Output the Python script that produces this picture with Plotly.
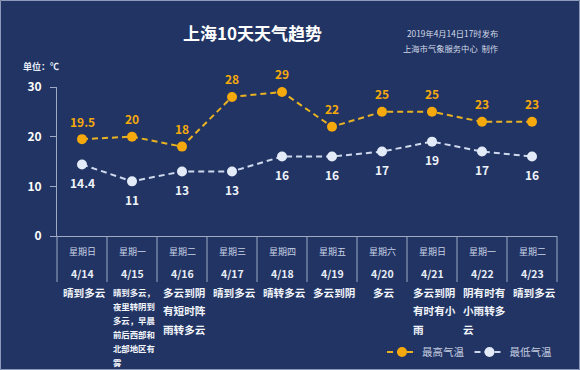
import plotly.graph_objects as go

# ---------------- data ----------------
dates = ["4/14", "4/15", "4/16", "4/17", "4/18", "4/19", "4/20", "4/21", "4/22", "4/23"]
weekdays = ["星期日", "星期一", "星期二", "星期三", "星期四", "星期五", "星期六", "星期日", "星期一", "星期二"]
highs = [19.5, 20, 18, 28, 29, 22, 25, 25, 23, 23]
lows = [14.4, 11, 13, 13, 16, 16, 17, 19, 17, 16]
weather = [
    ["晴到多云"],
    ["晴到多云，", "夜里转阴到", "多云，早晨", "前后西部和", "北部地区有", "雾"],
    ["多云到阴", "有短时阵", "雨转多云"],
    ["晴到多云"],
    ["晴转多云"],
    ["多云到阴"],
    ["多云"],
    ["多云到阴", "有时有小", "雨"],
    ["阴有时有", "小雨转多", "云"],
    ["晴到多云"],
]
y_ticks = [0, 10, 20, 30]
title_text = "上海10天天气趋势"
pub_text = "2019年4月14日17时发布"
maker_text = "上海市气象服务中心  制作"
unit_text = "单位：℃"
legend_names = ["最高气温", "最低气温"]

# ---------------- style ----------------
W, H = 580, 370
L, R, T, B = 57, 23, 87, 134
BG = "#213463"
AX = "#9fabc6"
ORANGE = "#f5a90c"
ORANGE_LINE = "#e9b222"
LOW = "#e3ebf8"
LOW_LINE = "#cfd9ee"
FONT = "Noto Sans CJK SC"


def px(p):
    return (p - L) / (W - L - R)


def py(p):
    return (H - B - p) / (H - T - B)


fig = go.Figure()
fig.add_trace(go.Scatter(
    x=dates, y=highs, mode="lines+markers", name=legend_names[0],
    line=dict(color=ORANGE_LINE, width=2, dash="6px,4px"),
    marker=dict(size=10, color=ORANGE),
))
fig.add_trace(go.Scatter(
    x=dates, y=lows, mode="lines+markers", name=legend_names[1],
    line=dict(color=LOW_LINE, width=2, dash="6px,4px"),
    marker=dict(size=10, color=LOW),
))

ann = []
for d, v in zip(dates, highs):
    ann.append(dict(x=d, y=v, xref="x", yref="y", text=f"<b>{v:g}</b>", showarrow=False,
                    yanchor="middle", yshift=18, font=dict(family=FONT, size=12, color=ORANGE)))
for d, v in zip(dates, lows):
    ann.append(dict(x=d, y=v, xref="x", yref="y", text=f"<b>{v:g}</b>", showarrow=False,
                    yanchor="middle", yshift=-18, font=dict(family=FONT, size=12, color="#eef2fa")))

# table texts
for i, d in enumerate(dates):
    ann.append(dict(x=d, y=py(251.5), xref="x", yref="paper", text=weekdays[i], showarrow=False,
                    yanchor="middle", font=dict(family=FONT, size=9, color="#c9d2e6")))
    ann.append(dict(x=d, y=py(273.5), xref="x", yref="paper", text=f"<b>{d}</b>", showarrow=False,
                    yanchor="middle", font=dict(family=FONT, size=10.5, color="#e8edf7")))
    lines = weather[i]
    small = len(lines) > 3
    fs = 8.4 if small else 10.6
    lh = 14 if small else 18.8
    bw = max(len(s) for s in lines) * fs
    for j, s in enumerate(lines):
        ann.append(dict(x=d, y=py(292 + j * lh), xref="x", yref="paper", text=f"<b>{s}</b>",
                        showarrow=False, xanchor="left", yanchor="middle", xshift=-bw / 2,
                        font=dict(family=FONT, size=fs, color="#f2f5fb")))

# headers
ann.append(dict(x=px(252.5), y=py(32), xref="paper", yref="paper", text=f"<b>{title_text}</b>",
                showarrow=False, xanchor="center", yanchor="middle",
                font=dict(family=FONT, size=17, color="#ffffff")))
ann.append(dict(x=px(500), y=py(32.5), xref="paper", yref="paper", text=pub_text, xanchor="right",
                yanchor="middle", showarrow=False, font=dict(family=FONT, size=8.3, color="#d3d9e8")))
ann.append(dict(x=px(500), y=py(48), xref="paper", yref="paper", text=maker_text, xanchor="right",
                yanchor="middle", showarrow=False, font=dict(family=FONT, size=8.3, color="#d3d9e8")))
ann.append(dict(x=px(21), y=py(66), xref="paper", yref="paper", text=f"<b>{unit_text}</b>", xanchor="left",
                yanchor="middle", showarrow=False, font=dict(family=FONT, size=9, color="#e8edf7")))

# table vertical separators
n = len(dates)
shapes = []
for i in range(n + 1):
    shapes.append(dict(type="line", xref="paper", yref="paper", x0=i / n, x1=i / n,
                       y0=py(282), y1=0, line=dict(color=AX, width=1)))
# outer frame
shapes.append(dict(type="rect", xref="paper", yref="paper", x0=px(0.5), x1=px(579.5),
                   y0=py(369.5), y1=py(0.5), line=dict(color="#8e9aba", width=1)))

fig.update_layout(
    width=W, height=H,
    margin=dict(l=L, r=R, t=T, b=B, autoexpand=False),
    paper_bgcolor=BG, plot_bgcolor=BG,
    annotations=ann, shapes=shapes,
    showlegend=True,
    legend=dict(orientation="h", x=px(557), xanchor="right", y=py(352), yanchor="middle",
                bgcolor="rgba(0,0,0,0)", font=dict(family=FONT, size=10.5, color="#c5cde0"),
                itemwidth=30, tracegroupgap=0),
    xaxis=dict(range=[-0.5, n - 0.5], showline=True, linecolor=AX, linewidth=1,
               showticklabels=False, ticks="", showgrid=False, zeroline=False, fixedrange=True),
    yaxis=dict(range=[0, 30], tickvals=y_ticks, ticktext=[f"<b>{t}</b>" for t in y_ticks],
               showline=True, linecolor=AX, linewidth=1, ticks="outside", ticklen=6, tickcolor=AX,
               tickfont=dict(family=FONT, size=12, color="#ffffff"), ticklabelstandoff=6,
               showgrid=False, zeroline=False, fixedrange=True),
)

fig.write_html("out.html", config={"displayModeBar": False},
               post_script="document.body.style.margin='0';document.body.style.background='" + BG + "';")
